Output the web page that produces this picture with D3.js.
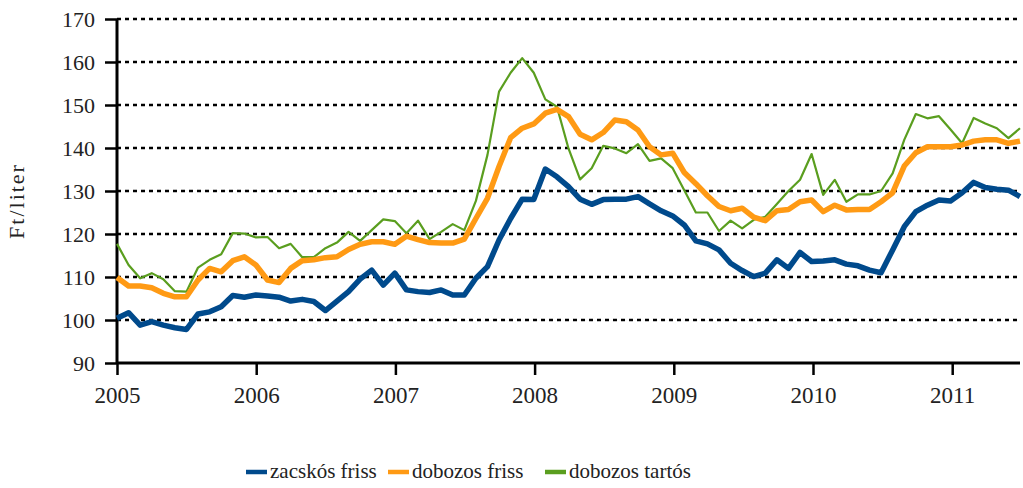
<!DOCTYPE html>
<html><head><meta charset="utf-8">
<script src="https://cdn.jsdelivr.net/npm/d3@7"></script>
<style>body{margin:0;background:#fff}svg{display:block}</style>
</head><body>
<svg id="c" width="1023" height="488"></svg>
<script>
const years = ["2005","2006","2007","2008","2009","2010","2011"];
const yTicks = [90,100,110,120,130,140,150,160,170];
const seriesNames = ["zacskós friss","dobozos friss","dobozos tartós"];
// monthly values Jan 2005 .. Jul 2011
const zacskosFriss = [100.4,101.7,98.8,99.6,98.8,98.2,97.8,101.4,101.9,103.1,105.7,105.3,
 105.8,105.6,105.3,104.4,104.8,104.3,102.2,104.4,106.6,109.5,111.6,108.1,
 110.9,107.0,106.6,106.4,107.0,105.8,105.8,109.7,112.4,118.6,123.6,128.1,
 128.0,135.1,133.3,131.0,128.1,126.9,128.0,128.1,128.1,128.7,127.0,125.4,
 124.2,122.1,118.4,117.7,116.3,113.2,111.5,110.1,110.9,114.0,112.0,115.7,
 113.6,113.7,114.0,113.0,112.6,111.6,111.0,116.3,121.7,125.2,126.7,127.9,
 127.7,129.6,132.0,130.8,130.4,130.2,128.7];
const dobozosFriss = [109.9,107.9,107.9,107.5,106.2,105.4,105.4,109.3,112.0,111.2,113.8,114.7,
 112.8,109.3,108.7,112.0,113.8,114.0,114.5,114.7,116.4,117.6,118.2,118.2,
 117.6,119.5,118.7,118.0,117.9,117.9,118.8,123.6,128.3,135.7,142.4,144.6,
 145.6,148.1,149.0,147.3,143.2,141.9,143.6,146.5,146.1,144.2,140.3,138.4,
 138.8,134.3,131.7,128.9,126.4,125.4,126.0,123.9,123.1,125.4,125.7,127.5,
 127.9,125.2,126.7,125.6,125.7,125.7,127.5,129.6,135.8,138.9,140.3,140.3,
 140.3,140.7,141.6,141.9,141.9,141.1,141.6];
const dobozosTartos = [117.7,112.8,109.7,110.9,109.5,106.7,106.6,112.2,114.0,115.3,120.2,120.1,
 119.2,119.3,116.7,117.7,114.6,114.6,116.7,118.0,120.5,118.4,120.9,123.4,
 123.0,120.2,123.1,118.8,120.5,122.3,120.9,127.7,138.4,153.1,157.5,160.9,
 157.5,151.3,149.6,139.9,132.7,135.3,140.5,139.9,138.8,140.9,137.0,137.6,
 135.3,130.2,125.0,125.0,120.7,123.1,121.3,123.3,124.0,127.0,130.0,132.6,
 138.6,129.1,132.6,127.5,129.2,129.2,130.0,134.1,141.9,147.9,146.9,147.4,
 144.3,141.1,147.0,145.7,144.6,142.3,144.6];

const svg = d3.select("#c");
const font = "'Liberation Serif', 'DejaVu Serif', serif";
const x = d3.scaleLinear().domain([0, 78]).range([117, 1020]);
const xYear = d3.scaleLinear().domain([2005, 2011]).range([117, 952.2]);
const y = d3.scaleLinear().domain([90, 170]).range([363, 19]);

// grid
svg.append("g").selectAll("line").data(yTicks.filter(d => d > 90)).join("line")
  .attr("x1", 117).attr("x2", 1020)
  .attr("y1", d => y(d)).attr("y2", d => y(d))
  .attr("stroke", "#000").attr("stroke-width", 2.5).attr("stroke-dasharray", "4,4");

// y axis
const yAxis = svg.append("g").attr("transform", "translate(117,0)")
  .call(d3.axisLeft(y).tickValues(yTicks).tickSize(12).tickPadding(10).tickFormat(d3.format("d")));
yAxis.select(".domain").attr("stroke-width", 3).attr("d", `M0,${y(170)}V${y(90)}`);
yAxis.selectAll(".tick line").attr("stroke-width", 2.5);
yAxis.selectAll("text").attr("font-family", font).attr("font-size", 22).attr("fill", "#222");

// x axis
const xAxis = svg.append("g").attr("transform", "translate(0,363)")
  .call(d3.axisBottom(xYear).tickValues(years.map(Number)).tickSize(12).tickPadding(12).tickFormat((d,i) => years[i]));
xAxis.select(".domain").attr("stroke-width", 3).attr("d", `M117,0H1020`);
xAxis.selectAll(".tick line").attr("stroke-width", 2.5);
xAxis.selectAll("text").attr("font-family", font).attr("font-size", 23).attr("fill", "#222");

svg.append("text").attr("transform", "translate(24,201) rotate(-90)")
  .attr("text-anchor", "middle").attr("font-family", font).attr("font-size", 22)
  .attr("letter-spacing", 2).attr("fill", "#222")
  .text("Ft/liter");

const series = [
  {name: seriesNames[0], values: zacskosFriss, color: "#004a8c", w: 5.5},
  {name: seriesNames[1], values: dobozosFriss, color: "#ff9a14", w: 5.5},
  {name: seriesNames[2], values: dobozosTartos, color: "#5a9e1f", w: 2.2}
];
const line = d3.line().x((d, i) => x(i)).y(d => y(d));
const drawOrder = [2, 1, 0];
svg.append("g").selectAll("path").data(drawOrder.map(i => series[i])).join("path")
  .attr("d", d => line(d.values)).attr("fill", "none")
  .attr("stroke", d => d.color).attr("stroke-width", d => d.w).attr("stroke-linejoin", "round");

// legend
const legX = [246, 388, 545];
const leg = svg.append("g").selectAll("g").data(series).join("g")
  .attr("transform", (d, i) => `translate(${legX[i]},478)`);
leg.append("line").attr("x1", 0).attr("x2", 21).attr("y1", -6).attr("y2", -6)
  .attr("stroke", d => d.color).attr("stroke-width", 4.5);
leg.append("text").attr("x", 24).attr("y", 0).attr("font-family", font).attr("font-size", 21).attr("fill", "#222")
  .text(d => d.name);
</script>
</body></html>
